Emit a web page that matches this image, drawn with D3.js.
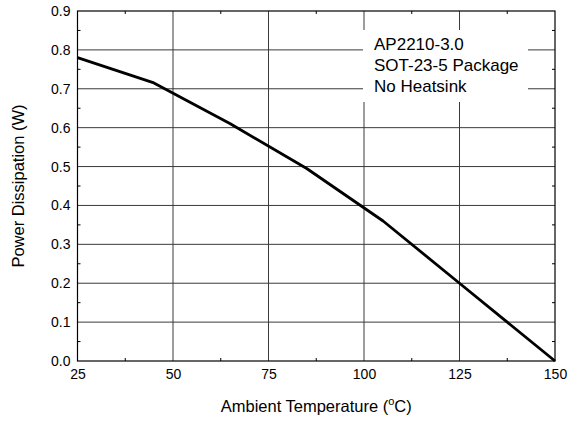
<!DOCTYPE html>
<html>
<head>
<meta charset="utf-8">
<script src="https://cdn.jsdelivr.net/npm/d3@7"></script>
<style>
  html, body { margin: 0; padding: 0; background: #fff; }
  svg { display: block; font-family: Arial, "Liberation Sans", Helvetica, sans-serif; }
</style>
</head>
<body>
<svg id="chart" width="568" height="425"></svg>
<script>
// Data
const temperatures = [25, 45, 65, 85, 105, 125, 150];
const powerW = [0.78, 0.715, 0.61, 0.495, 0.36, 0.2, 0.0];
const xTicks = [25, 50, 75, 100, 125, 150];
const yTicks = [0.0, 0.1, 0.2, 0.3, 0.4, 0.5, 0.6, 0.7, 0.8, 0.9];
const legendLines = ["AP2210-3.0", "SOT-23-5 Package", "No Heatsink"];
const xTitle = "Ambient Temperature (";
const yTitle = "Power Dissipation (W)";

const svg = d3.select("#chart");
const L = 77.5, R = 555, T = 11, B = 361;

const x = d3.scaleLinear().domain([25, 150]).range([L, R]);
const y = d3.scaleLinear().domain([0, 0.9]).range([B, T]);

// grid
const grid = svg.append("g").attr("stroke", "#3a3a3a").attr("stroke-width", 1);
grid.selectAll("line.v").data(xTicks.slice(1, -1)).join("line")
  .attr("x1", d => x(d)).attr("x2", d => x(d)).attr("y1", T).attr("y2", B);
grid.selectAll("line.h").data(yTicks.slice(1, -1)).join("line")
  .attr("y1", d => y(d)).attr("y2", d => y(d)).attr("x1", L).attr("x2", R);

// minor ticks (inward) on all four sides
const xMinor = d3.range(0, xTicks.length - 1).map(i => (xTicks[i] + xTicks[i + 1]) / 2);
const yMinor = d3.range(0, yTicks.length - 1).map(i => (yTicks[i] + yTicks[i + 1]) / 2);
const mt = svg.append("g").attr("stroke", "#000").attr("stroke-width", 1);
xMinor.forEach(d => {
  mt.append("line").attr("x1", x(d)).attr("x2", x(d)).attr("y1", B).attr("y2", B - 3);
  mt.append("line").attr("x1", x(d)).attr("x2", x(d)).attr("y1", T).attr("y2", T + 3);
});
yMinor.forEach(d => {
  mt.append("line").attr("y1", y(d)).attr("y2", y(d)).attr("x1", L).attr("x2", L + 3);
  mt.append("line").attr("y1", y(d)).attr("y2", y(d)).attr("x1", R).attr("x2", R - 3);
});

// legend box (white, covering grid)
const lg = svg.append("g");
lg.append("rect").attr("x", 363).attr("y", 30).attr("width", 165).attr("height", 72).attr("fill", "#fff");
lg.selectAll("text").data(legendLines).join("text")
  .attr("x", 374).attr("y", (d, i) => 50 + i * 21)
  .attr("font-size", 17).attr("fill", "#000")
  .text(d => d);

// curve
const line = d3.line().x((d, i) => x(temperatures[i])).y(d => y(d));
svg.append("path").datum(powerW)
  .attr("d", line).attr("fill", "none").attr("stroke", "#000")
  .attr("stroke-width", 2.8).attr("stroke-linejoin", "round");

// frame
svg.append("rect").attr("x", L).attr("y", T).attr("width", R - L).attr("height", B - T)
  .attr("fill", "none").attr("stroke", "#000").attr("stroke-width", 1.2);

// axes
const xAxis = d3.axisBottom(x).tickValues(xTicks).tickSize(0).tickPadding(8).tickFormat(d3.format("d"));
const gx = svg.append("g").attr("transform", `translate(0,${B})`).call(xAxis);
gx.select(".domain").remove();
gx.selectAll("text").attr("font-size", 14).attr("fill", "#000").attr("font-family", null).attr("dy", "0.71em");

const yAxis = d3.axisLeft(y).tickValues(yTicks).tickSize(0).tickPadding(7).tickFormat(d3.format(".1f"));
const gy = svg.append("g").attr("transform", `translate(${L},0)`).call(yAxis);
gy.select(".domain").remove();
gy.selectAll("text").attr("font-size", 14).attr("fill", "#000").attr("font-family", null);

// titles
const xt = svg.append("text").attr("x", (L + R) / 2).attr("y", 412)
  .attr("text-anchor", "middle").attr("font-size", 16.5).attr("fill", "#000");
xt.append("tspan").text(xTitle);
xt.append("tspan").attr("font-size", 11).attr("dy", -7).text("o");
xt.append("tspan").attr("dy", 7).text("C)");

svg.append("text").attr("transform", `translate(24,${(T + B) / 2}) rotate(-90)`)
  .attr("text-anchor", "middle").attr("font-size", 16.5).attr("fill", "#000")
  .text(yTitle);
</script>
</body>
</html>
